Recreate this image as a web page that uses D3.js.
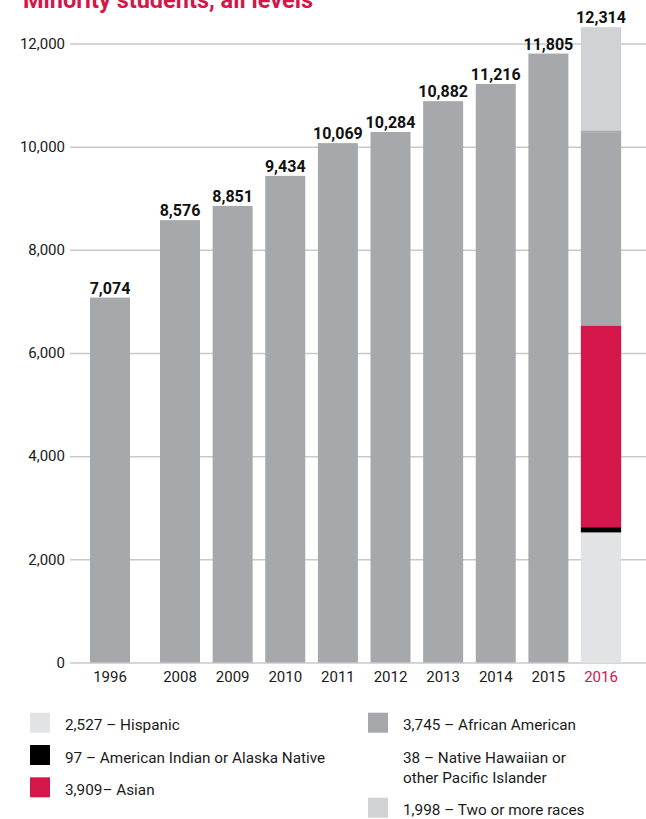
<!DOCTYPE html>
<html>
<head>
<meta charset="utf-8">
<script src="https://cdn.jsdelivr.net/npm/d3@7"></script>
<style>
	body { margin: 0; background: #fff; }
	svg { display: block; font-family: Roboto, "Noto Sans", sans-serif; }
</style>
</head>
<body>
<svg id="chart"></svg>
<script>
// data
const years = ["1996", "2008", "2009", "2010", "2011", "2012", "2013", "2014", "2015", "2016"];
const totals = [7074, 8576, 8851, 9434, 10069, 10284, 10882, 11216, 11805, 12314];
const yTicks = [0, 2000, 4000, 6000, 8000, 10000, 12000];

// 2016 breakdown, bottom to top of the stacked bar
const groups2016 = ["Hispanic", "American Indian or Alaska Native", "Asian", "African American", "Native Hawaiian or other Pacific Islander", "Two or more races"];
const values2016 = [2527, 97, 3909, 3745, 38, 1998];
const groupColors = ["#e2e3e5", "#000000", "#d5164b", "#a7a8ab", "#a7a8ab", "#d1d2d4"];
const legendLines = [
	["2,527 – Hispanic"],
	["97 – American Indian or Alaska Native"],
	["3,909– Asian"],
	["3,745 – African American"],
	["38 – Native Hawaiian or", "other Pacific Islander"],
	["1,998 – Two or more races"]
];
const legendSwatch = [true, true, true, true, false, true];

const W = 646, H = 819;
const barGray = "#a7a8ab";
const red = "#d5164b";
const gridColor = "#c9c9cb";

const svg = d3.select("#chart")
	.attr("width", W)
	.attr("height", H);

// title (top cut off in the original)
svg.append("text")
	.attr("x", 23)
	.attr("y", 8)
	.attr("fill", red)
	.attr("font-size", 23.5)
	.attr("font-weight", 700)
	.text("Minority students, all levels");

// scales
const y = d3.scaleLinear()
	.domain([0, 12000])
	.range([662.5, 43.5]);

const gap = 17.4; // 1996 stands apart from the yearly run
const x = d3.scaleBand()
	.domain(years)
	.range([90, 603.6])
	.paddingInner(0.24)
	.paddingOuter(0);
const xPos = d => x(d) + (d === years[0] ? 0 : gap);

// gridlines + y labels
const yAxis = svg.append("g")
	.attr("transform", "translate(70,0)")
	.call(d3.axisLeft(y)
		.tickValues(yTicks)
		.tickFormat(d3.format(","))
		.tickSize(-(W - 70))
		.tickPadding(5));
yAxis.select(".domain").remove();
yAxis.selectAll("line")
	.attr("stroke", gridColor)
	.attr("stroke-width", 1.5);
yAxis.selectAll("text")
	.attr("font-family", "Roboto")
	.attr("font-size", 15)
	.attr("fill", "#1a1a1a");

// plain bars 1996-2015
const plain = years.slice(0, -1).map((yr, i) => ({ year: yr, value: totals[i] }));
svg.selectAll("rect.bar")
	.data(plain)
	.enter()
	.append("rect")
	.attr("class", "bar")
	.attr("x", d => xPos(d.year))
	.attr("y", d => y(d.value))
	.attr("width", x.bandwidth())
	.attr("height", d => y(0) - y(d.value))
	.attr("fill", barGray);

// stacked 2016 bar
const row = {};
groups2016.forEach((g, i) => { row[g] = values2016[i]; });
const stacked = d3.stack().keys(groups2016)([row]);
const lastYear = years[years.length - 1];
svg.selectAll("rect.seg")
	.data(stacked)
	.enter()
	.append("rect")
	.attr("class", "seg")
	.attr("x", xPos(lastYear))
	.attr("y", d => y(d[0][1]))
	.attr("width", x.bandwidth())
	.attr("height", d => y(d[0][0]) - y(d[0][1]))
	.attr("fill", (d, i) => groupColors[i])
	.attr("stroke", (d, i) => groupColors[i])
	.attr("stroke-width", 0.3);

// value labels
const allBars = years.map((yr, i) => ({ year: yr, value: yr === lastYear ? d3.sum(values2016) : totals[i] }));
svg.selectAll("text.val")
	.data(allBars)
	.enter()
	.append("text")
	.attr("class", "val")
	.attr("x", d => xPos(d.year) + x.bandwidth() / 2)
	.attr("y", d => y(d.value) - 4)
	.attr("text-anchor", "middle")
	.attr("font-size", 16)
	.attr("font-weight", 700)
	.attr("fill", "#111")
	.text(d => d3.format(",")(d.value));

// year labels
svg.selectAll("text.year")
	.data(years)
	.enter()
	.append("text")
	.attr("class", "year")
	.attr("x", d => xPos(d) + x.bandwidth() / 2)
	.attr("y", 682)
	.attr("text-anchor", "middle")
	.attr("font-size", 15)
	.attr("fill", d => d === lastYear ? red : "#1a1a1a")
	.text(d => d);

// legend
const legendPos = [
	[30, 712.7], [30, 745], [30, 777.3],
	[368, 712.7], [368, 745.5], [368, 797.7]
];
const legend = svg.append("g");
groups2016.forEach((g, i) => {
	const [lx, ly] = legendPos[i];
	if (legendSwatch[i]) {
		legend.append("rect")
			.attr("x", lx)
			.attr("y", ly)
			.attr("width", 20)
			.attr("height", 20)
			.attr("fill", groupColors[i]);
	}
	legendLines[i].forEach((t, j) => {
		legend.append("text")
			.attr("x", lx + 35)
			.attr("y", ly + 17.5 + j * 20)
			.attr("font-size", 15.3)
			.attr("fill", "#1a1a1a")
			.text(t);
	});
});
</script>
</body>
</html>
